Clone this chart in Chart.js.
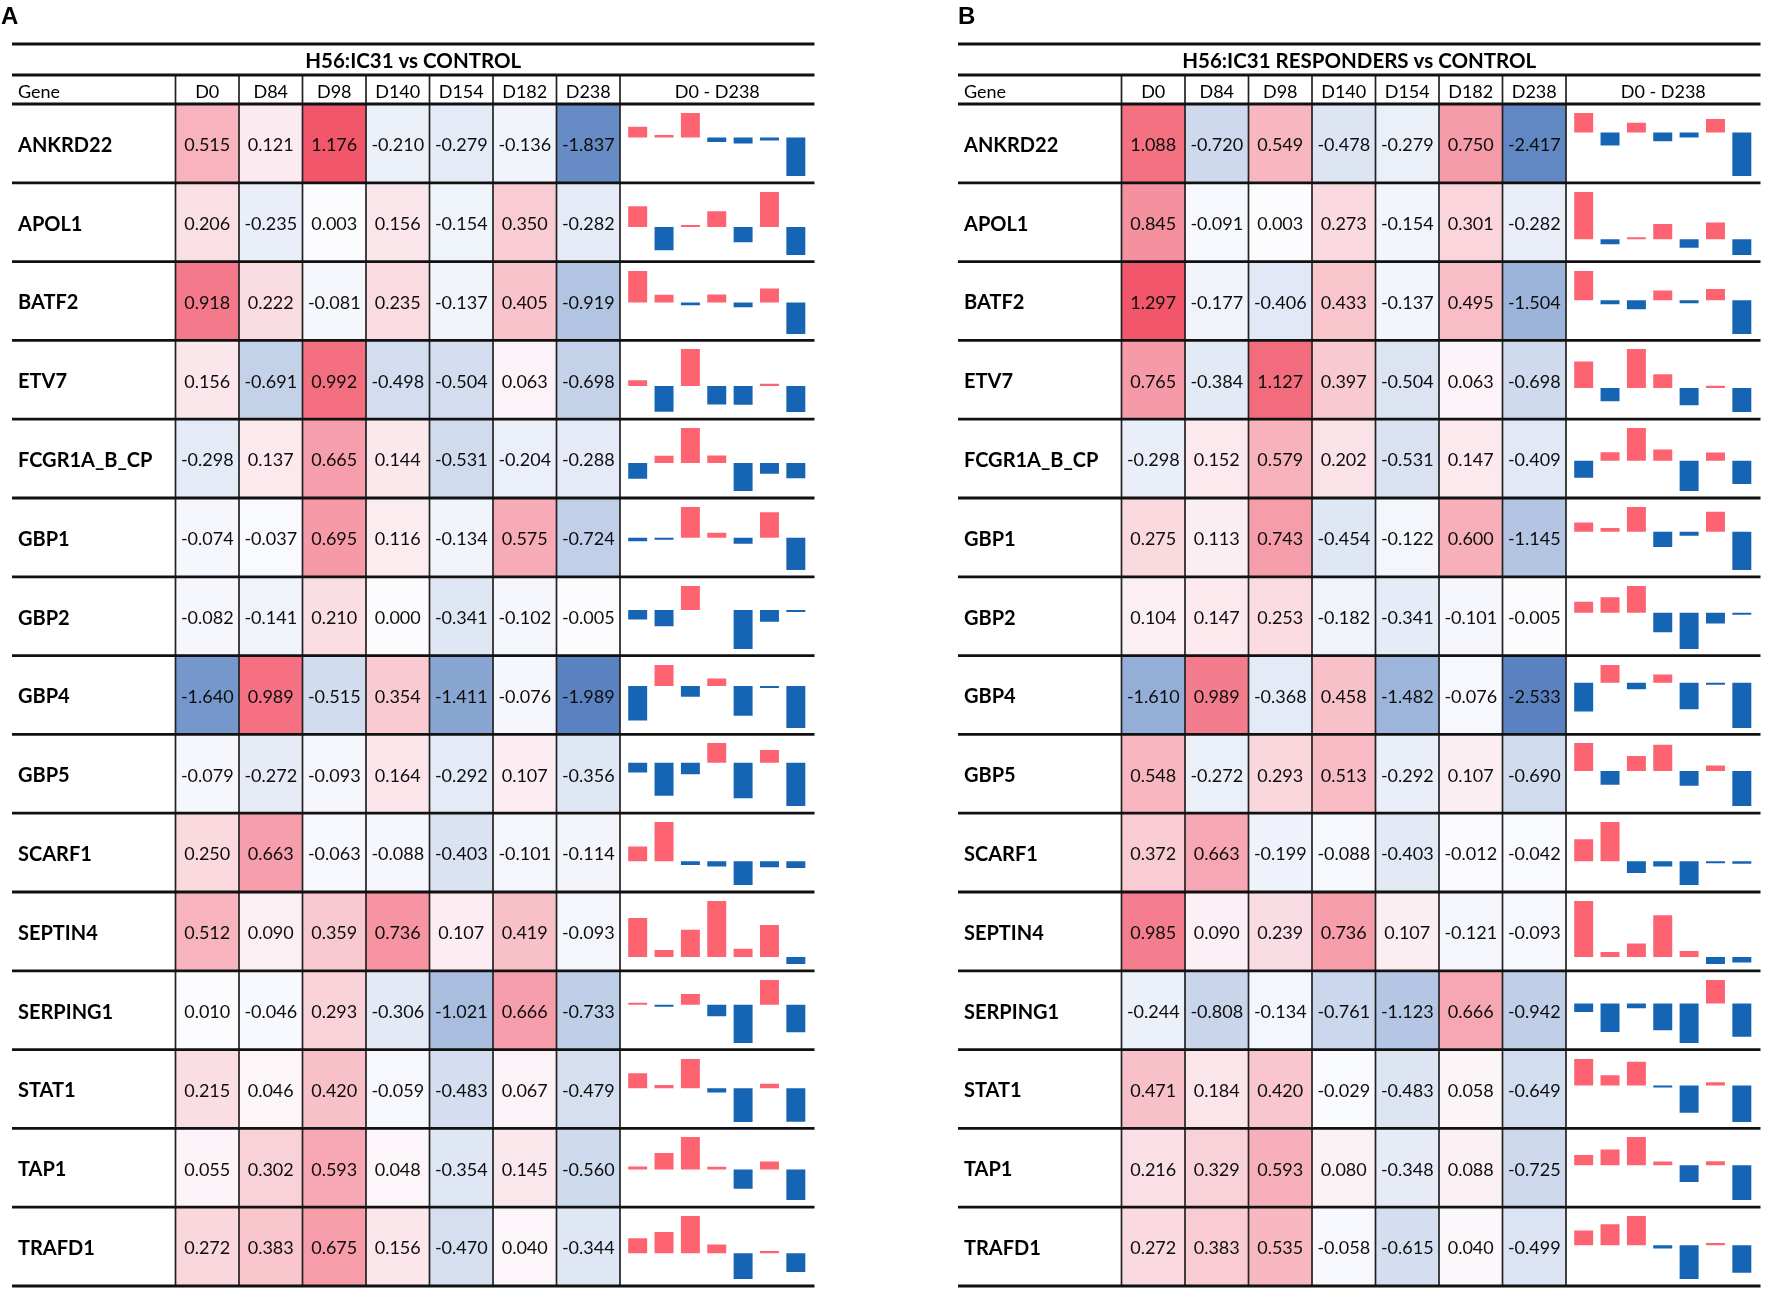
<!DOCTYPE html>
<html>
<head>
<meta charset="utf-8">
<script src="https://cdn.jsdelivr.net/npm/chart.js@4.4.1/dist/chart.umd.min.js"></script>
<style>
  html, body { margin: 0; padding: 0; background: #fff; }
  body { width: 1772px; height: 1301px; position: relative; overflow: hidden; }
  canvas { position: absolute; }
</style>
</head>
<body>
<script>
const days = ['D0', 'D84', 'D98', 'D140', 'D154', 'D182', 'D238'];
const genes = ['ANKRD22', 'APOL1', 'BATF2', 'ETV7', 'FCGR1A_B_CP', 'GBP1', 'GBP2', 'GBP4',
               'GBP5', 'SCARF1', 'SEPTIN4', 'SERPING1', 'STAT1', 'TAP1', 'TRAFD1'];
const sparkHeader = 'D0 - D238';
const geneHeader = 'Gene';
const titleA = 'H56:IC31 vs CONTROL';
const titleB = 'H56:IC31 RESPONDERS vs CONTROL';

const valuesA = [
  [ 0.515,  0.121,  1.176, -0.210, -0.279, -0.136, -1.837],
  [ 0.206, -0.235,  0.003,  0.156, -0.154,  0.350, -0.282],
  [ 0.918,  0.222, -0.081,  0.235, -0.137,  0.405, -0.919],
  [ 0.156, -0.691,  0.992, -0.498, -0.504,  0.063, -0.698],
  [-0.298,  0.137,  0.665,  0.144, -0.531, -0.204, -0.288],
  [-0.074, -0.037,  0.695,  0.116, -0.134,  0.575, -0.724],
  [-0.082, -0.141,  0.210,  0.000, -0.341, -0.102, -0.005],
  [-1.640,  0.989, -0.515,  0.354, -1.411, -0.076, -1.989],
  [-0.079, -0.272, -0.093,  0.164, -0.292,  0.107, -0.356],
  [ 0.250,  0.663, -0.063, -0.088, -0.403, -0.101, -0.114],
  [ 0.512,  0.090,  0.359,  0.736,  0.107,  0.419, -0.093],
  [ 0.010, -0.046,  0.293, -0.306, -1.021,  0.666, -0.733],
  [ 0.215,  0.046,  0.420, -0.059, -0.483,  0.067, -0.479],
  [ 0.055,  0.302,  0.593,  0.048, -0.354,  0.145, -0.560],
  [ 0.272,  0.383,  0.675,  0.156, -0.470,  0.040, -0.344]
];

const valuesB = [
  [ 1.088, -0.720,  0.549, -0.478, -0.279,  0.750, -2.417],
  [ 0.845, -0.091,  0.003,  0.273, -0.154,  0.301, -0.282],
  [ 1.297, -0.177, -0.406,  0.433, -0.137,  0.495, -1.504],
  [ 0.765, -0.384,  1.127,  0.397, -0.504,  0.063, -0.698],
  [-0.298,  0.152,  0.579,  0.202, -0.531,  0.147, -0.409],
  [ 0.275,  0.113,  0.743, -0.454, -0.122,  0.600, -1.145],
  [ 0.104,  0.147,  0.253, -0.182, -0.341, -0.101, -0.005],
  [-1.610,  0.989, -0.368,  0.458, -1.482, -0.076, -2.533],
  [ 0.548, -0.272,  0.293,  0.513, -0.292,  0.107, -0.690],
  [ 0.372,  0.663, -0.199, -0.088, -0.403, -0.012, -0.042],
  [ 0.985,  0.090,  0.239,  0.736,  0.107, -0.121, -0.093],
  [-0.244, -0.808, -0.134, -0.761, -1.123,  0.666, -0.942],
  [ 0.471,  0.184,  0.420, -0.029, -0.483,  0.058, -0.649],
  [ 0.216,  0.329,  0.593,  0.080, -0.348,  0.088, -0.725],
  [ 0.272,  0.383,  0.535, -0.058, -0.615,  0.040, -0.499]
];

/* layout (page px) */
const GENE_W = 163.5, CELLS_W = 444.5, SPARK_W = 194.5, PAD_X = 12;
const TOP_RULE = 44, TITLE_RULE = 75, HEAD_BOTTOM = 104, TABLE_BOTTOM = 1286;
const CANVAS_W = 826, CANVAS_H = 1301;
const FONT = 'Lato, "Open Sans", sans-serif';

/* colour scale: blue -> white -> red, per panel */
const HOT = [242, 86, 106], MID = [252, 252, 255], COLD = [90, 130, 192];
const BAR_POS = '#fd6371', BAR_NEG = '#1665b5';

function heatColor(v, lo, hi) {
  const t = v >= 0 ? (hi ? v / hi : 0) : (lo ? v / lo : 0);
  const c = v >= 0 ? HOT : COLD;
  const m = MID.map((w, k) => Math.round(w + (c[k] - w) * Math.min(1, t)));
  return `rgb(${m[0]},${m[1]},${m[2]})`;
}

const panels = [
  { letter: 'A', title: titleA, values: valuesA, left: 12 },
  { letter: 'B', title: titleB, values: valuesB, left: 958 }
];

/* rules, header texts and cell numbers on top of the heatmap */
const tablePlugin = {
  id: 'tableDeco',
  afterDraw(chart, args, opts) {
    const p = opts.panel;
    const ctx = chart.ctx, a = chart.chartArea, xs = chart.scales.x;
    const x0 = PAD_X, x1 = PAD_X + GENE_W + CELLS_W + SPARK_W;
    const rowH = (a.bottom - a.top) / genes.length;
    const hLine = (y) => { ctx.beginPath(); ctx.moveTo(x0, y); ctx.lineTo(x1, y); ctx.stroke(); };

    ctx.save();
    // numbers in cells
    ctx.font = '18px ' + FONT;
    ctx.fillStyle = '#0d0d0d';
    ctx.textAlign = 'center';
    ctx.textBaseline = 'middle';
    chart.data.datasets.forEach((ds, j) => {
      chart.getDatasetMeta(j).data.forEach((el, i) => {
        const { x, base, y } = el.getProps(['x', 'base', 'y'], true);
        ctx.fillText(p.values[i][j].toFixed(3), (x + base) / 2, y + 2);
      });
    });

    // column separators
    ctx.strokeStyle = '#222';
    ctx.lineWidth = 1.7;
    for (let k = 0; k <= days.length; k++) {
      const px = xs.getPixelForValue(k);
      ctx.beginPath(); ctx.moveTo(px, TITLE_RULE); ctx.lineTo(px, a.bottom); ctx.stroke();
    }

    // horizontal rules
    ctx.strokeStyle = '#111';
    ctx.lineWidth = 2.8;
    hLine(TOP_RULE);
    hLine(TITLE_RULE);
    for (let k = 0; k <= genes.length; k++) hLine(a.top + k * rowH);

    // title and header labels
    ctx.fillStyle = '#000';
    ctx.font = 'bold 20.5px ' + FONT;
    ctx.fillText(p.title, (x0 + x1) / 2, (TOP_RULE + TITLE_RULE) / 2 + 1.5);
    ctx.font = '18px ' + FONT;
    ctx.fillText(sparkHeader, (a.right + x1) / 2, 92);
    ctx.textAlign = 'left';
    ctx.fillText(geneHeader, x0 + 6, 92);

    // panel letter
    ctx.font = 'bold 24px "Liberation Sans", Arial, sans-serif';
    ctx.textBaseline = 'alphabetic';
    ctx.fillText(p.letter, p.letter === 'A' ? 1 : x0, 24);
    ctx.restore();
  }
};

function buildPanel(p) {
  const cv = document.createElement('canvas');
  cv.width = CANVAS_W; cv.height = CANVAS_H;
  cv.style.left = (p.left - PAD_X) + 'px';
  cv.style.top = '0px';
  document.body.appendChild(cv);

  const flat = p.values.flat();
  const lo = Math.min(...flat), hi = Math.max(...flat);

  const chart = new Chart(cv, {
    type: 'bar',
    data: {
      labels: genes,
      datasets: days.map((d, j) => ({
        label: d,
        xAxisID: 'x', yAxisID: 'y',
        data: genes.map(() => [j, j + 1]),
        backgroundColor: p.values.map(r => heatColor(r[j], lo, hi)),
        borderWidth: 0,
        barPercentage: 1, categoryPercentage: 1,
        grouped: false
      }))
    },
    options: {
      indexAxis: 'y',
      responsive: false,
      animation: false,
      events: [],
      layout: {
        padding: {
          left: PAD_X + 6,
          right: CANVAS_W - (PAD_X + GENE_W + CELLS_W),
          top: TITLE_RULE,
          bottom: CANVAS_H - TABLE_BOTTOM
        }
      },
      plugins: {
        legend: { display: false },
        tooltip: { enabled: false },
        tableDeco: { panel: p }
      },
      scales: {
        x: { type: 'linear', min: 0, max: days.length, display: false },
        xTop: {
          type: 'category', labels: days, position: 'top', offset: true,
          grid: { display: false, drawTicks: false }, border: { display: false },
          ticks: { padding: 1.5, color: '#000', maxRotation: 0, autoSkip: false,
                   font: { family: FONT, size: 18 } },
          afterFit: s => { s.height = HEAD_BOTTOM - TITLE_RULE; }
        },
        y: {
          type: 'category', position: 'left', offset: true,
          grid: { display: false, drawTicks: false }, border: { display: false },
          ticks: { crossAlign: 'far', autoSkip: false, padding: 0, labelOffset: 2, color: '#000',
                   font: { family: FONT, size: 20, weight: 'bold' } },
          afterFit: s => { s.width = GENE_W - 6; }
        }
      }
    },
    plugins: [tablePlugin]
  });

  // one sparkline per gene, each on its own y range (like Excel sparklines)
  const ys = chart.scales.y, a = chart.chartArea;
  const rowH = (a.bottom - a.top) / genes.length;
  const sparkLeft = p.left + GENE_W + CELLS_W;
  genes.forEach((g, i) => {
    const row = p.values[i];
    const sc = document.createElement('canvas');
    sc.width = Math.round(SPARK_W);
    sc.height = Math.round(rowH);
    sc.style.left = Math.round(sparkLeft) + 'px';
    sc.style.top = Math.round(ys.getPixelForValue(i) - rowH / 2) + 'px';
    document.body.appendChild(sc);
    new Chart(sc, {
      type: 'bar',
      data: {
        labels: days,
        datasets: [{
          data: row,
          backgroundColor: row.map(v => v > 0 ? BAR_POS : v < 0 ? BAR_NEG : 'rgba(0,0,0,0)'),
          borderWidth: 0,
          barPercentage: 0.72, categoryPercentage: 1,
          minBarLength: 2
        }]
      },
      options: {
        responsive: false,
        animation: false,
        events: [],
        layout: { padding: { left: 4.5, right: 6, top: 9, bottom: 7 } },
        plugins: { legend: { display: false }, tooltip: { enabled: false } },
        scales: {
          x: { display: false },
          y: { display: false, min: Math.min(0, ...row), max: Math.max(0, ...row) }
        }
      }
    });
  });
}

panels.forEach(buildPanel);
</script>
</body>
</html>
